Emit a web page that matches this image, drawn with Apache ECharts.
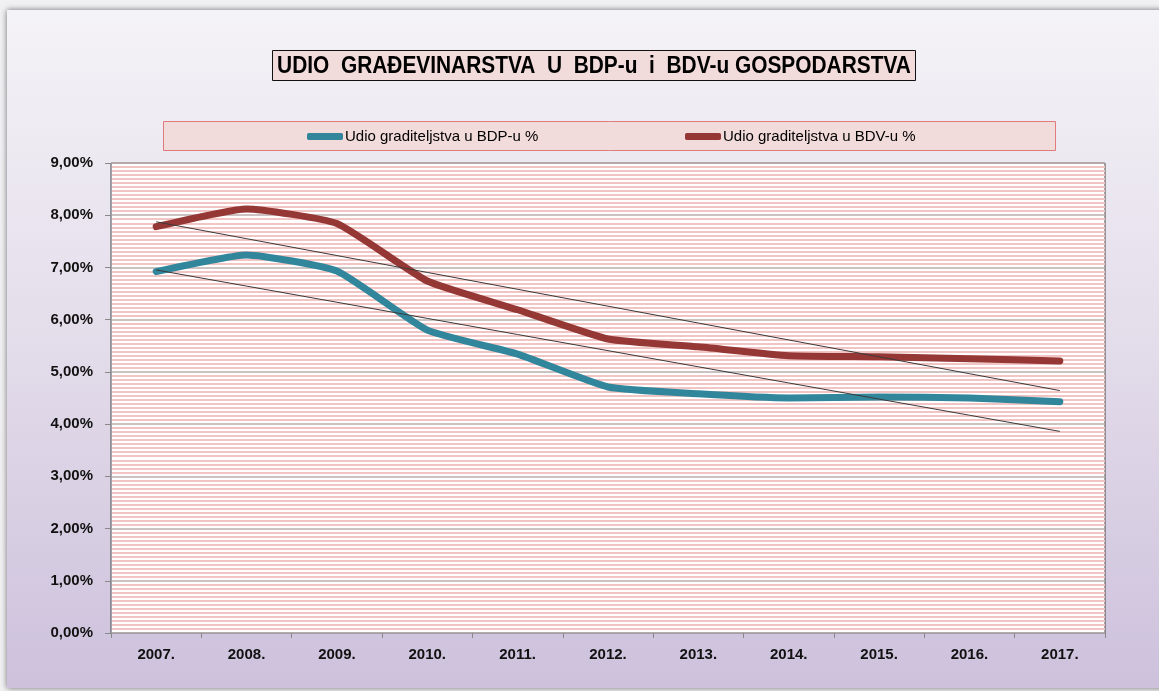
<html lang="hr">
<head>
    <meta charset="UTF-8">
    <title>Udio građevinarstva</title>
    <style>
        html, body { margin: 0; padding: 0; background: #f1f1f3; }
        #container { width: 1159px; height: 691px; }
    </style>
</head>
<body>
    <div id="container"></div>

    <script src="https://cdn.jsdelivr.net/npm/echarts@6/dist/echarts.min.js"></script>
    <script>
        var years = ['2007.', '2008.', '2009.', '2010.', '2011.', '2012.', '2013.', '2014.', '2015.', '2016.', '2017.'];
        var udioBDP = [6.92, 7.24, 6.93, 5.80, 5.34, 4.71, 4.58, 4.50, 4.52, 4.50, 4.43];
        var udioBDV = [7.78, 8.12, 7.84, 6.74, 6.19, 5.63, 5.48, 5.31, 5.29, 5.25, 5.21];
        var nameBDP = 'Udio graditeljstva u BDP-u %';
        var nameBDV = 'Udio graditeljstva u BDV-u %';
        var titleText = 'UDIO  GRAĐEVINARSTVA  U  BDP-u  i  BDV-u GOSPODARSTVA';

        // linear trend (least squares), like Excel trendline
        function trend(vals) {
            var n = vals.length, sx = 0, sy = 0, sxy = 0, sxx = 0;
            vals.forEach(function (v, i) { sx += i; sy += v; sxy += i * v; sxx += i * i; });
            var k = (n * sxy - sx * sy) / (n * sxx - sx * sx);
            var b = (sy - k * sx) / n;
            return vals.map(function (v, i) { return +(b + k * i).toFixed(4); });
        }

        var myChart = echarts.init(document.getElementById('container'));
        var sans = '"Liberation Sans", Arial, sans-serif';

        var option = {
            backgroundColor: 'transparent',
            animation: false,
            graphic: [{
                type: 'rect',
                z: -10,
                shape: { x: 7, y: 10, width: 1160, height: 678 },
                style: {
                    fill: new echarts.graphic.LinearGradient(0, 0, 0, 1, [
                        { offset: 0, color: '#f4f3f7' },
                        { offset: 0.5, color: '#e3dcea' },
                        { offset: 1, color: '#cdc1dc' }
                    ]),
                    shadowBlur: 6,
                    shadowColor: 'rgba(0,0,0,0.55)'
                }
            }, {
                type: 'rect',
                z: -5,
                shape: { x: 163.5, y: 121.5, width: 892, height: 29 },
                style: { fill: '#f2dcdb', stroke: '#e07a7c', lineWidth: 1 }
            }, {
                type: 'rect',
                z: 5,
                shape: { x: 272.5, y: 50.5, width: 643, height: 30 },
                style: { fill: '#f2dcdb', stroke: '#111', lineWidth: 1 }
            }, {
                type: 'text',
                z: 6,
                x: 594,
                y: 66,
                scaleX: 0.87,
                style: {
                    text: titleText,
                    x: 0,
                    y: 0,
                    align: 'center',
                    verticalAlign: 'middle',
                    font: 'bold 24px "Liberation Sans", Arial, sans-serif',
                    fill: '#000'
                }
            }],
            legend: [{
                data: [nameBDP],
                left: 307,
                top: 129,
                padding: 0,
                itemWidth: 36,
                itemHeight: 7,
                icon: 'roundRect',
                selectedMode: false,
                textStyle: { fontFamily: sans, fontSize: 15, color: '#000', padding: [0, 0, 0, -3] }
            }, {
                data: [nameBDV],
                left: 685,
                top: 129,
                padding: 0,
                itemWidth: 36,
                itemHeight: 7,
                icon: 'roundRect',
                selectedMode: false,
                textStyle: { fontFamily: sans, fontSize: 15, color: '#000', padding: [0, 0, 0, -3] }
            }],
            grid: {
                left: 111,
                right: 54,
                top: 163,
                bottom: 58,
                show: true,
                backgroundColor: '#ffffff',
                borderColor: '#444',
                borderWidth: 1
            },
            xAxis: {
                type: 'category',
                data: years,
                boundaryGap: true,
                axisLine: { lineStyle: { color: '#a0a0a8', width: 1 } },
                axisTick: { show: true, length: 5, lineStyle: { color: '#888' } },
                axisLabel: {
                    margin: 14,
                    fontFamily: sans,
                    fontWeight: 'bold',
                    fontSize: 15,
                    color: '#111'
                },
                splitLine: { show: false }
            },
            yAxis: {
                type: 'value',
                min: 0,
                max: 9,
                interval: 1,
                axisLine: { show: true, lineStyle: { color: '#a0a0a8', width: 1 } },
                axisTick: { show: true, length: 6, lineStyle: { color: '#888' } },
                axisLabel: {
                    margin: 18,
                    fontFamily: sans,
                    fontWeight: 'bold',
                    fontSize: 15,
                    color: '#111',
                    formatter: function (v) { return v.toFixed(2).replace('.', ',') + '%'; }
                },
                splitLine: { show: true, lineStyle: { color: '#bcaeae', width: 1.5 } },
                minorTick: { show: false, splitNumber: 13 },
                minorSplitLine: { show: true, lineStyle: { color: '#f2c4c4', width: 2 } }
            },
            series: [{
                name: nameBDP,
                type: 'line',
                data: udioBDP,
                symbol: 'none',
                smooth: 0.15,
                z: 3,
                itemStyle: { color: '#31869b' },
                lineStyle: { color: '#31869b', width: 7, cap: 'round', join: 'round' }
            }, {
                name: nameBDV,
                type: 'line',
                data: udioBDV,
                symbol: 'none',
                smooth: 0.15,
                z: 3,
                itemStyle: { color: '#953735' },
                lineStyle: { color: '#953735', width: 7, cap: 'round', join: 'round' }
            }, {
                name: 'trend BDP',
                type: 'line',
                data: trend(udioBDP),
                symbol: 'none',
                z: 4,
                lineStyle: { color: '#3a3a3a', width: 1 }
            }, {
                name: 'trend BDV',
                type: 'line',
                data: trend(udioBDV),
                symbol: 'none',
                z: 4,
                lineStyle: { color: '#3a3a3a', width: 1 }
            }]
        };
        myChart.setOption(option);
    </script>
</body>
</html>
